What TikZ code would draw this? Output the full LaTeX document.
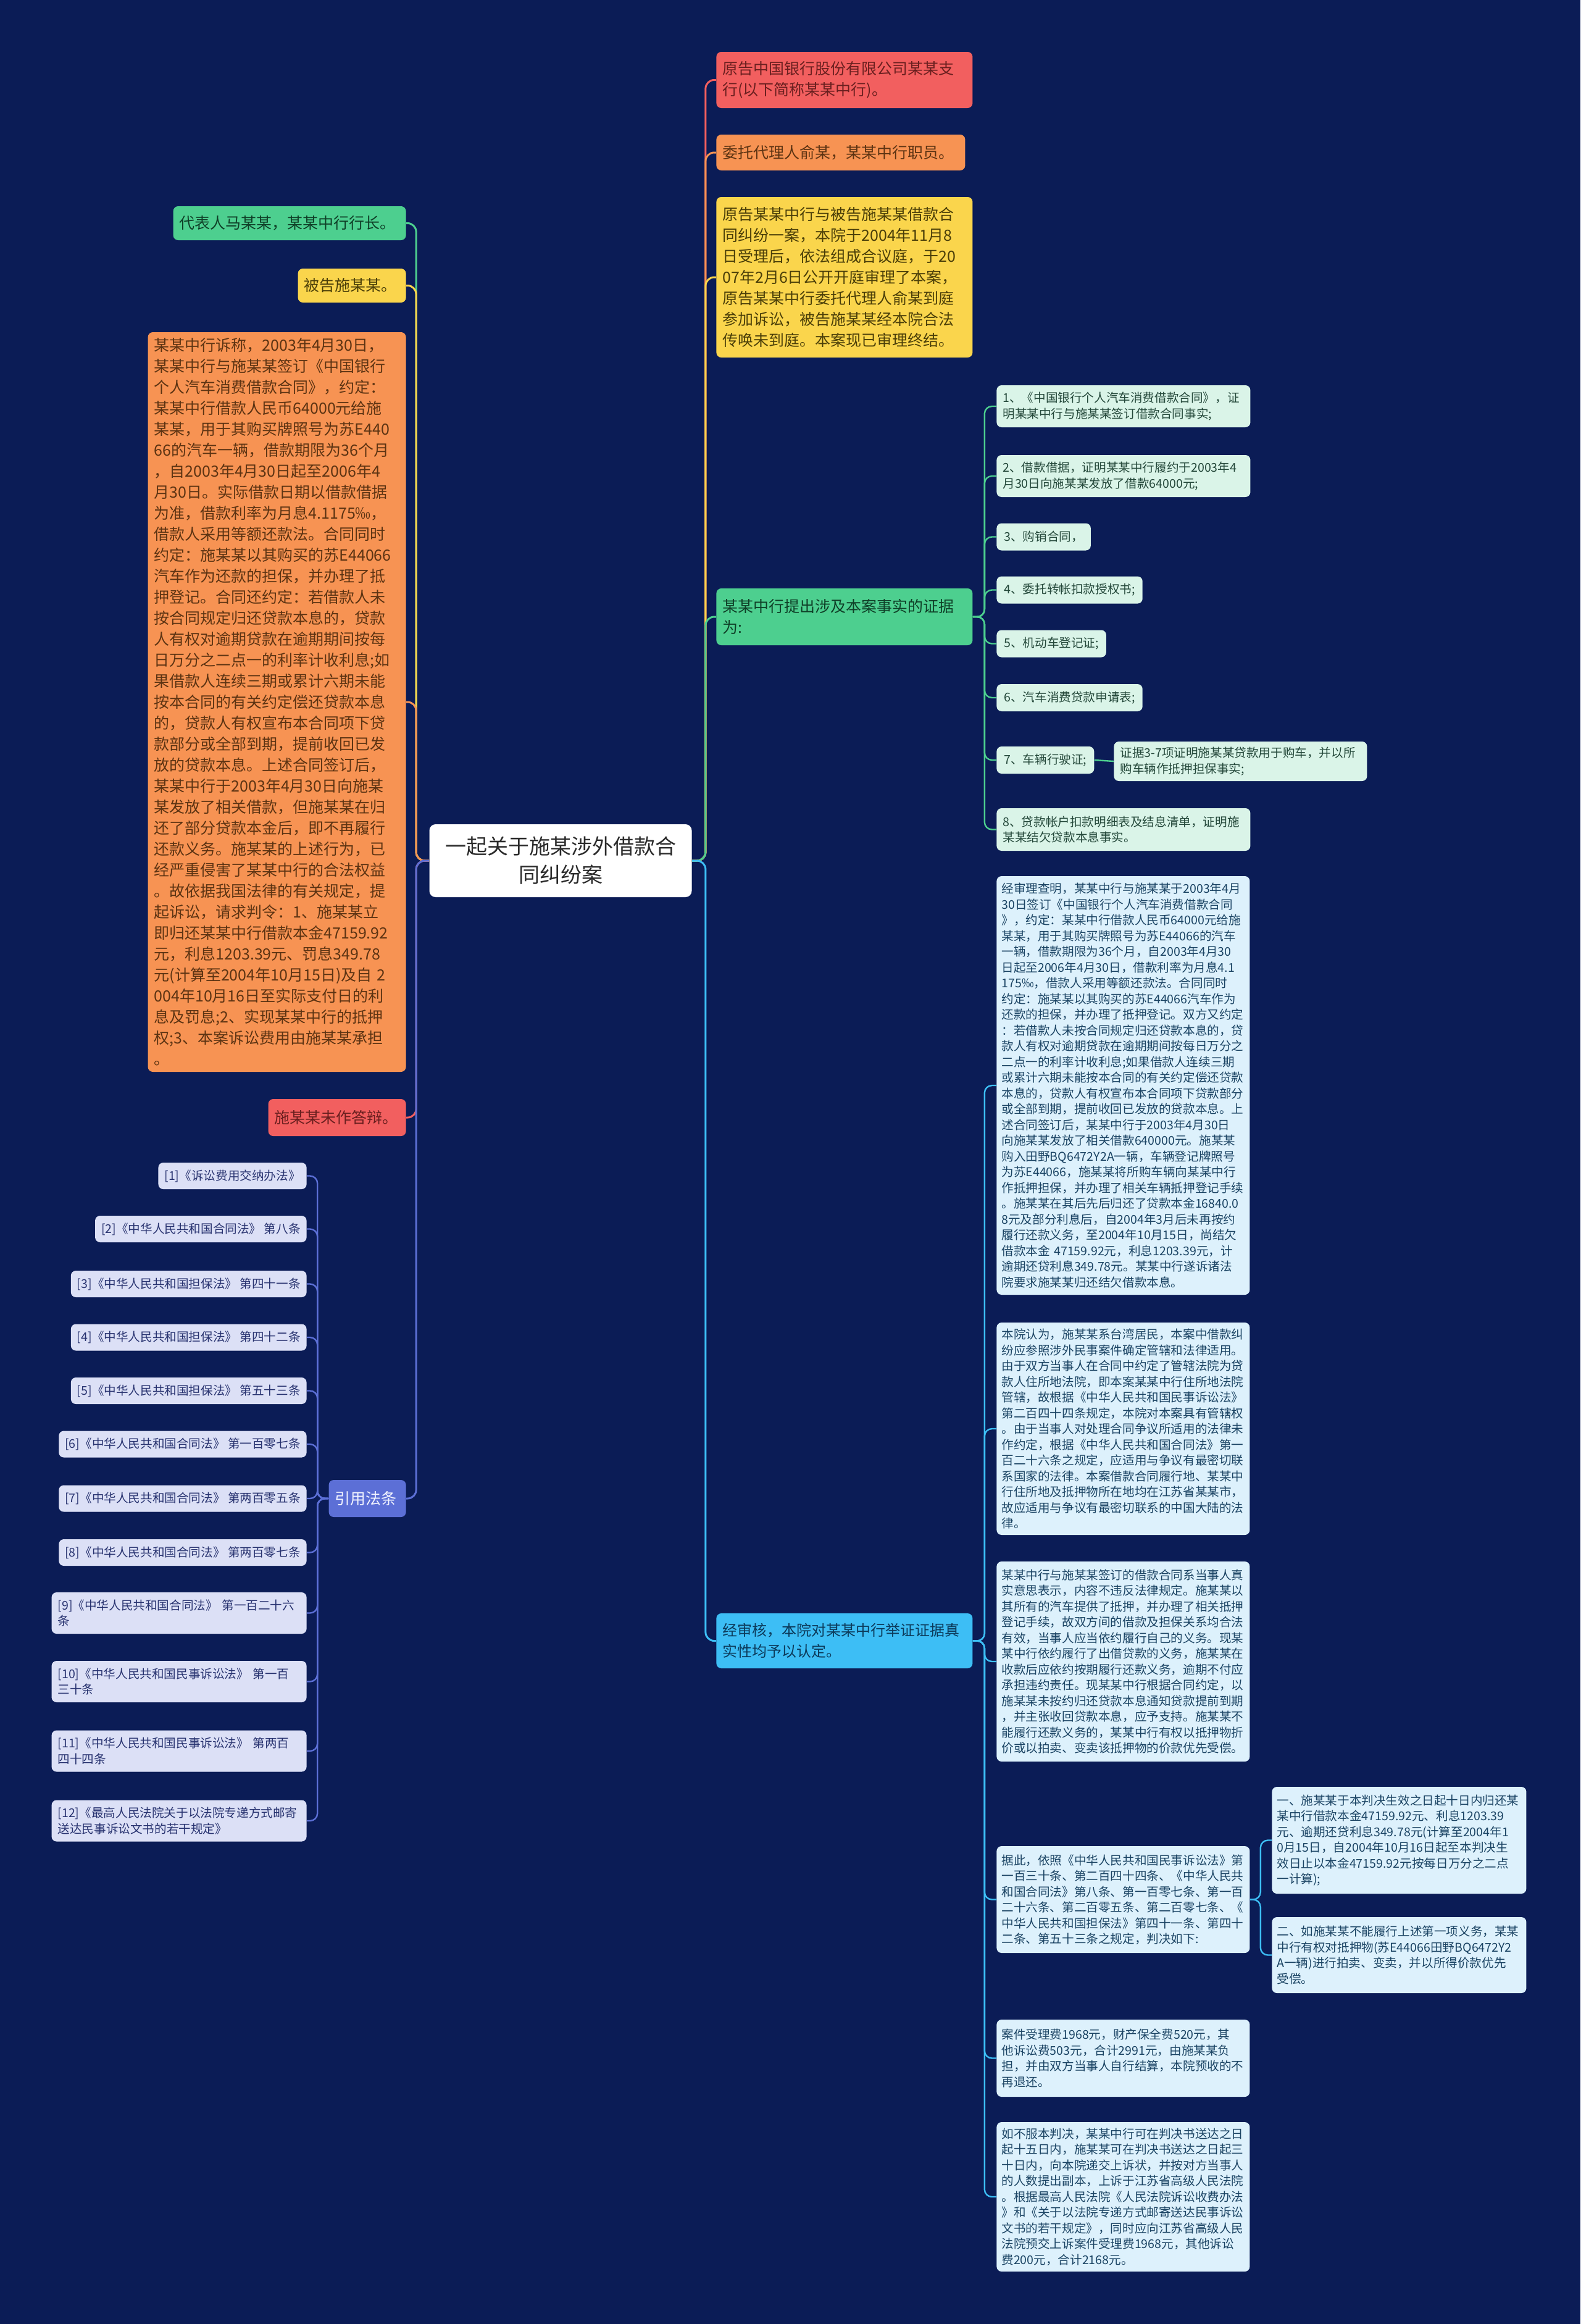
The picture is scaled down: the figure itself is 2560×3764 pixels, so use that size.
\documentclass[tikz,border=0pt]{standalone}
\usepackage{fontspec}
\setmainfont{Noto Sans CJK SC}
\definecolor{bg}{HTML}{0B1C56}
\definecolor{cred}{HTML}{F25F5F}
\definecolor{corange}{HTML}{F79353}
\definecolor{cyellow}{HTML}{FAD54C}
\definecolor{cgreen}{HTML}{4DCF8F}
\definecolor{cblue}{HTML}{3DBEF5}
\definecolor{cpurple}{HTML}{5C6FD6}
\definecolor{lgreen}{HTML}{DAF4E8}
\definecolor{lblue}{HTML}{DDF1FC}
\definecolor{lpurple}{HTML}{DCE0F6}
\definecolor{tred}{HTML}{6A1F1F}
\definecolor{torange}{HTML}{5C3312}
\definecolor{tyellow}{HTML}{4A3E08}
\definecolor{tgreen}{HTML}{0F3F27}
\definecolor{tegreen}{HTML}{24483A}
\definecolor{tblue}{HTML}{0C3A5A}
\definecolor{tlblue}{HTML}{1B4464}
\definecolor{tpurple}{HTML}{283370}
\definecolor{troot}{HTML}{2B2B2B}
\definecolor{tlaw}{HTML}{F2F4FF}
\begin{document}
\begin{tikzpicture}[x=0.5pt,y=-0.5pt,
  nd/.style={rounded corners=4pt, align=left, inner ysep=0pt, inner xsep=5pt},
  bigf/.style={font=\fontsize{12.5}{17}\selectfont},
  smf/.style={font=\fontsize{9.8}{12.75}\selectfont},
  rootst/.style={fill=white, text=troot, rounded corners=5pt, align=center, inner sep=0pt, font=\fontsize{17}{23}\selectfont},
  rnode/.style={nd, bigf, anchor=west},
  lnode/.style={nd, bigf, anchor=east},
  evid/.style={nd, smf, anchor=west, fill=lgreen, text=tegreen},
  evs/.style={evid, inner xsep=6pt, minimum height=22pt},
  bch/.style={nd, smf, anchor=west, fill=lblue, text=tlblue, inner xsep=4pt, text width=197pt},
  law/.style={nd, smf, anchor=east, fill=lpurple, text=tpurple, minimum height=21.5pt},
  lawtwo/.style={law, text width=196.5pt, minimum height=33.5pt},
  conn/.style={line width=1.5pt, rounded corners=7pt},
  sub/.style={line width=1.2pt, rounded corners=6pt}
]
\fill[bg] (0,0) rectangle (2560,3764);
\useasboundingbox (0,0) rectangle (2560,3764);

% root
\node[rootst, minimum width=212.5pt, minimum height=59pt] (root) at (908,1394) {一起关于施某涉外借款合\\同纠纷案};

% right first level
\node[rnode, fill=cred, text=tred, text width=197.5pt, minimum height=45.5pt] (r1) at (1160,129.5) {原告中国银行股份有限公司某某支\\行(以下简称某某中行)。};
\node[rnode, fill=corange, text=torange, text width=191.5pt, minimum height=29pt] (r2) at (1160,247) {委托代理人俞某，某某中行职员。};
\node[rnode, fill=cyellow, text=tyellow, text width=197.5pt, minimum height=130pt] (r3) at (1160,449) {原告某某中行与被告施某某借款合\\
同纠纷一案，本院于2004年11月8\\
日受理后，依法组成合议庭，于20\\
07年2月6日公开开庭审理了本案，\\
原告某某中行委托代理人俞某到庭\\
参加诉讼，被告施某某经本院合法\\
传唤未到庭。本案现已审理终结。};
\node[rnode, fill=cgreen, text=tgreen, text width=197.5pt, minimum height=46pt] (r4) at (1160,999) {某某中行提出涉及本案事实的证据\\为:};
\node[rnode, fill=cblue, text=tblue, font=\fontsize{12}{17}\selectfont, text width=197.5pt, minimum height=44.5pt] (r5) at (1160,2657.5) {经审核，本院对某某中行举证证据真\\实性均予以认定。};

% left first level
\node[lnode, fill=cgreen, text=tgreen, text width=178.5pt, minimum height=27.5pt] (l1) at (658,361.5) {代表人马某某，某某中行行长。};
\node[lnode, fill=cyellow, text=tyellow, text width=77.5pt, minimum height=27.5pt] (l2) at (658,462.5) {被告施某某。};
\node[lnode, fill=corange, text=torange, text width=199pt, minimum height=599pt] (l3) at (658,1137) {某某中行诉称，2003年4月30日，\\
某某中行与施某某签订《中国银行\\
个人汽车消费借款合同》，约定：\\
某某中行借款人民币64000元给施\\
某某，用于其购买牌照号为苏E440\\
66的汽车一辆，借款期限为36个月\\
，自2003年4月30日起至2006年4\\
月30日。实际借款日期以借款借据\\
为准，借款利率为月息4.1175‰，\\
借款人采用等额还款法。合同同时\\
约定：施某某以其购买的苏E44066\\
汽车作为还款的担保，并办理了抵\\
押登记。合同还约定：若借款人未\\
按合同规定归还贷款本息的，贷款\\
人有权对逾期贷款在逾期期间按每\\
日万分之二点一的利率计收利息;如\\
果借款人连续三期或累计六期未能\\
按本合同的有关约定偿还贷款本息\\
的，贷款人有权宣布本合同项下贷\\
款部分或全部到期，提前收回已发\\
放的贷款本息。上述合同签订后，\\
某某中行于2003年4月30日向施某\\
某发放了相关借款，但施某某在归\\
还了部分贷款本金后，即不再履行\\
还款义务。施某某的上述行为，已\\
经严重侵害了某某中行的合法权益\\
。故依据我国法律的有关规定，提\\
起诉讼，请求判令：1、施某某立\\
即归还某某中行借款本金47159.92\\
元，利息1203.39元、罚息349.78\\
元(计算至2004年10月15日)及自 2\\
004年10月16日至实际支付日的利\\
息及罚息;2、实现某某中行的抵押\\
权;3、本案诉讼费用由施某某承担\\
。};
\node[lnode, fill=cred, text=tred, text width=101.5pt, minimum height=30pt] (l4) at (658,1810) {施某某未作答辩。};
\node[lnode, fill=cpurple, text=tlaw, text width=52.5pt, minimum height=30pt] (l5) at (658,2427) {引用法条};

% evidence
\node[evid, text width=195.5pt, minimum height=34pt] (e1) at (1614,658) {1、《中国银行个人汽车消费借款合同》，证\\明某某中行与施某某签订借款合同事实;};
\node[evid, text width=195.5pt, minimum height=34pt] (e2) at (1614,771) {2、借款借据，证明某某中行履约于2003年4\\月30日向施某某发放了借款64000元;};
\node[evs] (e3) at (1614,869.5) {3、购销合同，};
\node[evs] (e4) at (1614,955.5) {4、委托转帐扣款授权书;};
\node[evs] (e5) at (1614,1042.5) {5、机动车登记证;};
\node[evs] (e6) at (1614,1130) {6、汽车消费贷款申请表;};
\node[evs] (e7) at (1614,1231) {7、车辆行驶证;};
\node[evid, text width=195pt, minimum height=32pt] (e7c) at (1804,1233) {证据3-7项证明施某某贷款用于购车，并以所\\购车辆作抵押担保事实;};
\node[evid, text width=195.5pt, minimum height=34.5pt] (e8) at (1614,1343.5) {8、贷款帐户扣款明细表及结息清单，证明施\\某某结欠贷款本息事实。};

% blue children
\node[bch, minimum height=339pt] (b1) at (1614,1758) {经审理查明，某某中行与施某某于2003年4月\\
30日签订《中国银行个人汽车消费借款合同\\
》，约定：某某中行借款人民币64000元给施\\
某某，用于其购买牌照号为苏E44066的汽车\\
一辆，借款期限为36个月，自2003年4月30\\
日起至2006年4月30日，借款利率为月息4.1\\
175‰，借款人采用等额还款法。合同同时\\
约定：施某某以其购买的苏E44066汽车作为\\
还款的担保，并办理了抵押登记。双方又约定\\
：若借款人未按合同规定归还贷款本息的，贷\\
款人有权对逾期贷款在逾期期间按每日万分之\\
二点一的利率计收利息;如果借款人连续三期\\
或累计六期未能按本合同的有关约定偿还贷款\\
本息的，贷款人有权宣布本合同项下贷款部分\\
或全部到期，提前收回已发放的贷款本息。上\\
述合同签订后，某某中行于2003年4月30日\\
向施某某发放了相关借款640000元。施某某\\
购入田野BQ6472Y2A一辆，车辆登记牌照号\\
为苏E44066，施某某将所购车辆向某某中行\\
作抵押担保，并办理了相关车辆抵押登记手续\\
。施某某在其后先后归还了贷款本金16840.0\\
8元及部分利息后，自2004年3月后未再按约\\
履行还款义务，至2004年10月15日，尚结欠\\
借款本金 47159.92元，利息1203.39元，计\\
逾期还贷利息349.78元。某某中行遂诉诸法\\
院要求施某某归还结欠借款本息。};
\node[bch, minimum height=172pt] (b2) at (1614,2314) {本院认为，施某某系台湾居民，本案中借款纠\\
纷应参照涉外民事案件确定管辖和法律适用。\\
由于双方当事人在合同中约定了管辖法院为贷\\
款人住所地法院，即本案某某中行住所地法院\\
管辖，故根据《中华人民共和国民事诉讼法》\\
第二百四十四条规定，本院对本案具有管辖权\\
。由于当事人对处理合同争议所适用的法律未\\
作约定，根据《中华人民共和国合同法》第一\\
百二十六条之规定，应适用与争议有最密切联\\
系国家的法律。本案借款合同履行地、某某中\\
行住所地及抵押物所在地均在江苏省某某市，\\
故应适用与争议有最密切联系的中国大陆的法\\
律。};
\node[bch, minimum height=162pt] (b3) at (1614,2691) {某某中行与施某某签订的借款合同系当事人真\\
实意思表示，内容不违反法律规定。施某某以\\
其所有的汽车提供了抵押，并办理了相关抵押\\
登记手续，故双方间的借款及担保关系均合法\\
有效，当事人应当依约履行自己的义务。现某\\
某中行依约履行了出借贷款的义务，施某某在\\
收款后应依约按期履行还款义务，逾期不付应\\
承担违约责任。现某某中行根据合同约定，以\\
施某某未按约归还贷款本息通知贷款提前到期\\
，并主张收回贷款本息，应予支持。施某某不\\
能履行还款义务的，某某中行有权以抵押物折\\
价或以拍卖、变卖该抵押物的价款优先受偿。};
\node[bch, minimum height=86.5pt] (b4) at (1614,3076.5) {据此，依照《中华人民共和国民事诉讼法》第\\
一百三十条、第二百四十四条、《中华人民共\\
和国合同法》第八条、第一百零七条、第一百\\
二十六条、第二百零五条、第二百零七条、《\\
中华人民共和国担保法》第四十一条、第四十\\
二条、第五十三条之规定，判决如下:};
\node[bch, text width=198pt, minimum height=86.5pt] (b4a) at (2060,2980.5) {一、施某某于本判决生效之日起十日内归还某\\
某中行借款本金47159.92元、利息1203.39\\
元、逾期还贷利息349.78元(计算至2004年1\\
0月15日，自2004年10月16日起至本判决生\\
效日止以本金47159.92元按每日万分之二点\\
一计算);};
\node[bch, text width=198pt, minimum height=61.5pt] (b4b) at (2060,3166.5) {二、如施某某不能履行上述第一项义务，某某\\
中行有权对抵押物(苏E44066田野BQ6472Y2\\
A一辆)进行拍卖、变卖，并以所得价款优先\\
受偿。};
\node[bch, minimum height=62.5pt] (b5) at (1614,3333.5) {案件受理费1968元，财产保全费520元，其\\
他诉讼费503元，合计2991元，由施某某负\\
担，并由双方当事人自行结算，本院预收的不\\
再退还。};
\node[bch, minimum height=121pt] (b6) at (1614,3558) {如不服本判决，某某中行可在判决书送达之日\\
起十五日内，施某某可在判决书送达之日起三\\
十日内，向本院递交上诉状，并按对方当事人\\
的人数提出副本，上诉于江苏省高级人民法院\\
。根据最高人民法院《人民法院诉讼收费办法\\
》和《关于以法院专递方式邮寄送达民事诉讼\\
文书的若干规定》，同时应向江苏省高级人民\\
法院预交上诉案件受理费1968元，其他诉讼\\
费200元，合计2168元。};

% laws
\node[law] (f1) at (497,1904.5) {[1]《诉讼费用交纳办法》};
\node[law] (f2) at (497,1990.5) {[2]《中华人民共和国合同法》 第八条};
\node[law] (f3) at (497,2079.5) {[3]《中华人民共和国担保法》 第四十一条};
\node[law] (f4) at (497,2166) {[4]《中华人民共和国担保法》 第四十二条};
\node[law] (f5) at (497,2252.5) {[5]《中华人民共和国担保法》 第五十三条};
\node[law] (f6) at (497,2339) {[6]《中华人民共和国合同法》 第一百零七条};
\node[law] (f7) at (497,2427) {[7]《中华人民共和国合同法》 第两百零五条};
\node[law] (f8) at (497,2514.5) {[8]《中华人民共和国合同法》 第两百零七条};
\node[lawtwo] (f9) at (497,2612.5) {[9]《中华人民共和国合同法》 第一百二十六\\条};
\node[lawtwo] (f10) at (497,2723.5) {[10]《中华人民共和国民事诉讼法》 第一百\\三十条};
\node[lawtwo] (f11) at (497,2836) {[11]《中华人民共和国民事诉讼法》 第两百\\四十四条};
\node[lawtwo] (f12) at (497,2949) {[12]《最高人民法院关于以法院专递方式邮寄\\送达民事诉讼文书的若干规定》};

% connectors: right
\draw[conn, draw=cred] (root.east) -- ++(22,0) |- (r1.west);
\draw[conn, draw=corange] (root.east) -- ++(22,0) |- (r2.west);
\draw[conn, draw=cyellow] (root.east) -- ++(22,0) |- (r3.west);
\draw[conn, draw=cgreen] (root.east) -- ++(22,0) |- (r4.west);
\draw[conn, draw=cblue] (root.east) -- ++(22,0) |- (r5.west);
% left
\draw[conn, draw=cgreen] (root.west) -- ++(-21,0) |- (l1.east);
\draw[conn, draw=cyellow] (root.west) -- ++(-21,0) |- (l2.east);
\draw[conn, draw=corange] (root.west) -- ++(-21,0) |- (l3.east);
\draw[conn, draw=cred] (root.west) -- ++(-21,0) |- (l4.east);
\draw[conn, draw=cpurple] (root.west) -- ++(-21,0) |- (l5.east);
% evidence
\foreach \i in {1,...,8} \draw[sub, draw=cgreen] (r4.east) -- ++(19,0) |- (e\i.west);
\draw[sub, draw=cgreen] (e7.east) -- (e7c.west);
% blue
\foreach \i in {1,...,6} \draw[sub, draw=cblue] (r5.east) -- ++(19,0) |- (b\i.west);
\draw[sub, draw=cblue] (b4.east) -- ++(17,0) |- (b4a.west);
\draw[sub, draw=cblue] (b4.east) -- ++(17,0) |- (b4b.west);
% laws
\foreach \i in {1,...,12} \draw[sub, draw=cpurple] (l5.west) -- ++(-18,0) |- (f\i.east);
\end{tikzpicture}
\end{document}
